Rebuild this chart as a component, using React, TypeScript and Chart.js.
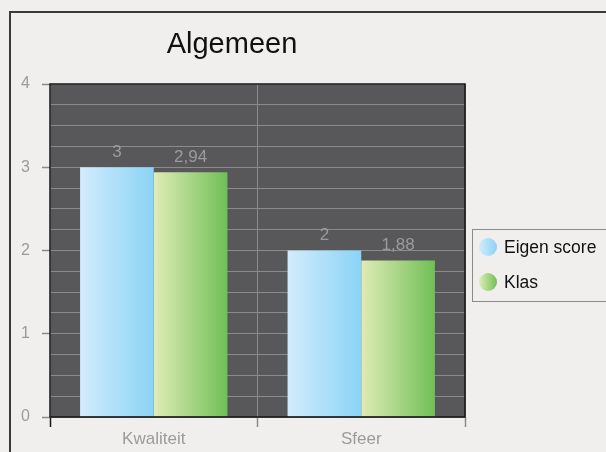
import React, { useEffect, useRef } from 'react';
import { Chart, registerables } from 'chart.js';

Chart.register(...registerables);

const titleText = 'Algemeen';
const categories = ['Kwaliteit', 'Sfeer'];
const seriesNames = ['Eigen score', 'Klas'];
const eigenScore = [3, 2];
const klas = [2.94, 1.88];
const yTickValues = [0, 1, 2, 3, 4];

const FONT = "'Liberation Sans', Arial, sans-serif";
const BG = '#f0efed';
const PLOT_BG = '#58585a';
const GRID = '#8b8b8b';
const LABEL = '#9b9b9b';
const AXIS = '#161616';
const CAT_PCT = 0.71;
const gradStops = [
  ['#d2ecfc', '#8bd3f5'],
  ['#e0ecb6', '#70bf57'],
];

function makeGrad(ctx: CanvasRenderingContext2D, left: number, width: number, i: number) {
  const g = ctx.createLinearGradient(left, 0, left + width, 0);
  g.addColorStop(0, gradStops[i][0]);
  g.addColorStop(1, gradStops[i][1]);
  return g;
}

function barGradient(chart: any, dsIndex: number, dataIndex: number) {
  const x = chart.scales && chart.scales.x;
  if (dataIndex === undefined || !x || !isFinite(x.left) || x.right - x.left <= 0) {
    return gradStops[dsIndex][1];
  }
  const center = x.getPixelForValue(dataIndex);
  const catW = (x.right - x.left) / categories.length;
  const bw = (catW * CAT_PCT) / 2;
  const left = dsIndex === 0 ? center - bw : center;
  return makeGrad(chart.ctx, left, bw, dsIndex);
}

const decor = {
  id: 'decor',
  beforeDraw(chart: any) {
    const { ctx, chartArea: a, width, height } = chart;
    ctx.save();
    ctx.fillStyle = BG;
    ctx.fillRect(0, 0, width, height);
    ctx.strokeStyle = '#3a3a3a';
    ctx.lineWidth = 2;
    ctx.strokeRect(10, 12, width + 50, height + 50);
    ctx.fillStyle = PLOT_BG;
    ctx.fillRect(a.left, a.top, a.right - a.left, a.bottom - a.top);
    ctx.restore();
  },
  afterDatasetsDraw(chart: any) {
    const { ctx, chartArea: a } = chart;
    ctx.save();
    ctx.strokeStyle = AXIS;
    ctx.lineWidth = 1.5;
    ctx.strokeRect(a.left, a.top, a.right - a.left, a.bottom - a.top);
    ctx.font = `17px ${FONT}`;
    ctx.fillStyle = LABEL;
    ctx.textAlign = 'center';
    ctx.textBaseline = 'middle';
    chart.data.datasets.forEach((ds: any, di: number) => {
      const meta = chart.getDatasetMeta(di);
      meta.data.forEach((el: any, i: number) => {
        const v = ds.data[i];
        ctx.fillText(String(v).replace('.', ','), el.x, el.y - 15);
      });
    });
    ctx.restore();
  },
  afterDraw(chart: any) {
    const { ctx } = chart;
    ctx.save();
    ctx.fillStyle = '#111';
    ctx.font = `29px ${FONT}`;
    ctx.textAlign = 'center';
    ctx.textBaseline = 'alphabetic';
    ctx.fillText(titleText, 232, 53);

    // legend
    ctx.strokeStyle = '#8a8a8a';
    ctx.lineWidth = 1;
    ctx.strokeRect(472.5, 229.5, 200, 72);
    ctx.font = `17.5px ${FONT}`;
    ctx.textAlign = 'left';
    ctx.textBaseline = 'middle';
    seriesNames.forEach((name, i) => {
      const cy = 247 + i * 35;
      ctx.beginPath();
      ctx.arc(488, cy, 9, 0, Math.PI * 2);
      ctx.fillStyle = makeGrad(ctx, 479, 18, i);
      ctx.fill();
      ctx.fillStyle = '#111';
      ctx.fillText(name, 504, cy + 1);
    });
    ctx.restore();
  },
};

export default function App() {
  const ref = useRef<HTMLCanvasElement>(null);
  useEffect(() => {
    document.documentElement.style.overflow = 'hidden';
    document.documentElement.style.background = BG;
    document.body.style.background = BG;
    document.body.style.margin = '0';
    const canvas = ref.current!;
    const chart = new Chart(canvas, {
      type: 'bar',
      data: {
        labels: categories,
        datasets: [
          {
            label: seriesNames[0],
            data: eigenScore,
            backgroundColor: (c: any) => barGradient(c.chart, 0, c.dataIndex),
            borderWidth: 0,
          },
          {
            label: seriesNames[1],
            data: klas,
            backgroundColor: (c: any) => barGradient(c.chart, 1, c.dataIndex),
            borderWidth: 0,
          },
        ],
      },
      options: {
        responsive: false,
        animation: false,
        devicePixelRatio: 1,
        layout: { padding: { top: 84, right: 141, left: 0, bottom: 0 } },
        datasets: { bar: { categoryPercentage: CAT_PCT, barPercentage: 1 } },
        plugins: { legend: { display: false }, title: { display: false }, tooltip: { enabled: false } },
        scales: {
          x: {
            offset: true,
            grid: {
              offset: true,
              color: GRID,
              lineWidth: 1,
              tickLength: 10,
              tickColor: (c: any) => (c.index === 0 || c.index === categories.length ? AXIS : GRID),
              tickWidth: 1.5,
            },
            border: { display: false },
            ticks: { color: LABEL, font: { family: FONT, size: 17 }, padding: 2 },
            afterFit: (s: any) => { s.height = 35; },
          },
          y: {
            min: 0,
            max: 4,
            grid: {
              color: GRID,
              lineWidth: 1,
              tickLength: 8,
              tickColor: (c: any) => (c.tick && yTickValues.includes(c.tick.value) ? GRID : 'rgba(0,0,0,0)'),
              tickWidth: 1.5,
            },
            border: { display: false },
            ticks: {
              stepSize: 0.25,
              autoSkip: false,
              color: LABEL,
              font: { family: FONT, size: 16 },
              padding: 12,
              callback: (v: any) => (yTickValues.includes(Number(v)) ? String(v) : ''),
            },
            afterFit: (s: any) => { s.width = 50; },
          },
        },
      },
      plugins: [decor],
    });
    return () => chart.destroy();
  }, []);
  return (
    <div style={{ width: 606, height: 452, overflow: 'hidden' }}>
      <canvas ref={ref} width={606} height={452} style={{ display: 'block' }} />
    </div>
  );
}
